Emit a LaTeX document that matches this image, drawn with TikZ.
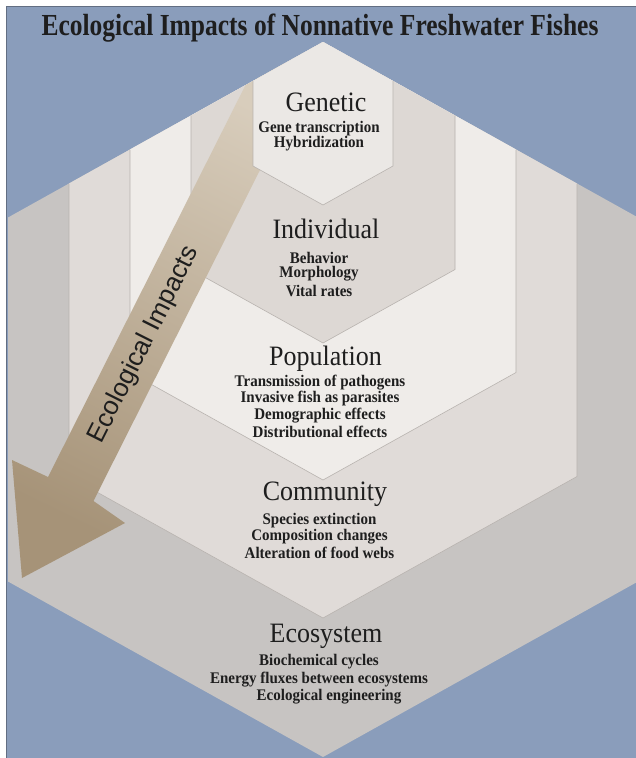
\documentclass[tikz,border=0pt]{standalone}
\usepackage{fontspec}
\usepackage{graphicx}
\setmainfont{Liberation Serif}
\newfontfamily\arrowfont{Liberation Sans}
\definecolor{bgblue}{RGB}{138,157,187}
\definecolor{framec}{RGB}{98,110,130}
\definecolor{ecoc}{RGB}{199,196,194}
\definecolor{comc}{RGB}{224,219,216}
\definecolor{popc}{RGB}{239,236,233}
\definecolor{indc}{RGB}{221,216,212}
\definecolor{genc}{RGB}{235,232,229}
\definecolor{edgec}{RGB}{184,179,175}
\definecolor{arrtop}{RGB}{216,205,188}
\definecolor{arrbot}{RGB}{166,147,120}
\definecolor{txtc}{RGB}{30,30,30}
\newcommand{\tallA}[1]{\scalebox{1}[1.08]{#1}}
\newcommand{\tallT}[1]{\scalebox{1}[1.2]{#1}}
\tikzset{
  lvl/.style={inner sep=0pt, text=txtc, font=\fontsize{26}{30}\selectfont},
  item/.style={inner sep=0pt, text=txtc, font=\fontsize{15}{17}\selectfont\bfseries},
  ttl/.style={inner sep=0pt, text=txtc, font=\fontsize{25.5}{30}\selectfont\bfseries},
  arrtxt/.style={inner sep=0pt, text=txtc, font=\fontsize{26}{30}\selectfont\arrowfont},
  hexedge/.style={draw=edgec, line width=0.6pt}
}
\begin{document}
\begin{tikzpicture}[x=1pt,y=-1pt]
\useasboundingbox (0,0) rectangle (635,758);
\fill[white] (0,0) rectangle (635,758);
\fill[bgblue] (6,6) rectangle (645,770);
\draw[framec, line width=1pt] (6,770) -- (6,6) -- (645,6);

% Ecosystem (outer)
\fill[ecoc] (323,42) -- (8,217.5) -- (8,581.5) -- (323,757) -- (638,581.5) -- (638,217.5) -- cycle;
% Community
\fill[comc] (323,42) -- (69,183.5) -- (69,476.5) -- (323,618) -- (577,476.5) -- (577,183.5) -- cycle;
\draw[hexedge] (69,183.5) -- (69,476.5) -- (323,618) -- (577,476.5) -- (577,183.5);
% Population
\fill[popc] (323,42) -- (130,149.5) -- (130,372.5) -- (323,480) -- (516,372.5) -- (516,149.5) -- cycle;
\draw[hexedge] (130,149.5) -- (130,372.5) -- (323,480) -- (516,372.5) -- (516,149.5);
% Individual
\fill[indc] (323,42) -- (191,115.5) -- (191,269.5) -- (323,343) -- (455,269.5) -- (455,115.5) -- cycle;
\draw[hexedge] (191,115.5) -- (191,269.5) -- (323,343) -- (455,269.5) -- (455,115.5);

% Arrow
\begin{scope}
\clip (323,42) -- (8,217.5) -- (8,581.5) -- (323,757) -- (638,581.5) -- (638,217.5) -- cycle;
\shade[top color=arrtop, bottom color=arrbot, shading angle=-26]
  (264,48.4) -- (48,477) -- (12,460) -- (22,578) -- (125,523) -- (93.5,501) -- (309.6,71.4) -- cycle;
\end{scope}

% Genetic
\fill[genc] (323,42) -- (253,81) -- (253,166) -- (323,205) -- (393,166) -- (393,81) -- cycle;
\draw[hexedge] (253,81) -- (253,166) -- (323,205) -- (393,166) -- (393,81);

% Arrow label
\node[arrtxt, rotate=63.3] (arrlbl) at (144,345) {Ecological Impacts};

% Title
\node[ttl] (title) at (320,28) {\tallT{Ecological Impacts of Nonnative Freshwater Fishes}};

% Genetic
\node[lvl] (gen) at (326,102) {\tallA{Genetic}};
\node[item] (gen1) at (319,129) {\tallA{Gene transcription}};
\node[item] (gen2) at (319,144) {\tallA{Hybridization}};
% Individual
\node[lvl] (ind) at (326,229) {\tallA{Individual}};
\node[item] (ind1) at (319,258) {\tallA{Behavior}};
\node[item] (ind2) at (319,274) {\tallA{Morphology}};
\node[item] (ind3) at (319,291) {\tallA{Vital rates}};
% Population
\node[lvl] (pop) at (325.5,359) {\tallA{Population}};
\node[item] (pop1) at (320,383) {\tallA{Transmission of pathogens}};
\node[item] (pop2) at (320,399) {\tallA{Invasive fish as parasites}};
\node[item] (pop3) at (320,416) {\tallA{Demographic effects}};
\node[item] (pop4) at (320,432) {\tallA{Distributional effects}};
% Community
\node[lvl] (com) at (325,494) {\tallA{Community}};
\node[item] (com1) at (319.5,521) {\tallA{Species extinction}};
\node[item] (com2) at (319.5,537) {\tallA{Composition changes}};
\node[item] (com3) at (319.5,553) {\tallA{Alteration of food webs}};
% Ecosystem
\node[lvl] (eco) at (326,636) {\tallA{Ecosystem}};
\node[item] (eco1) at (319,662) {\tallA{Biochemical cycles}};
\node[item] (eco2) at (319,680) {\tallA{Energy fluxes between ecosystems}};
\node[item] (eco3) at (329,697) {\tallA{Ecological engineering}};
\end{tikzpicture}
\end{document}
